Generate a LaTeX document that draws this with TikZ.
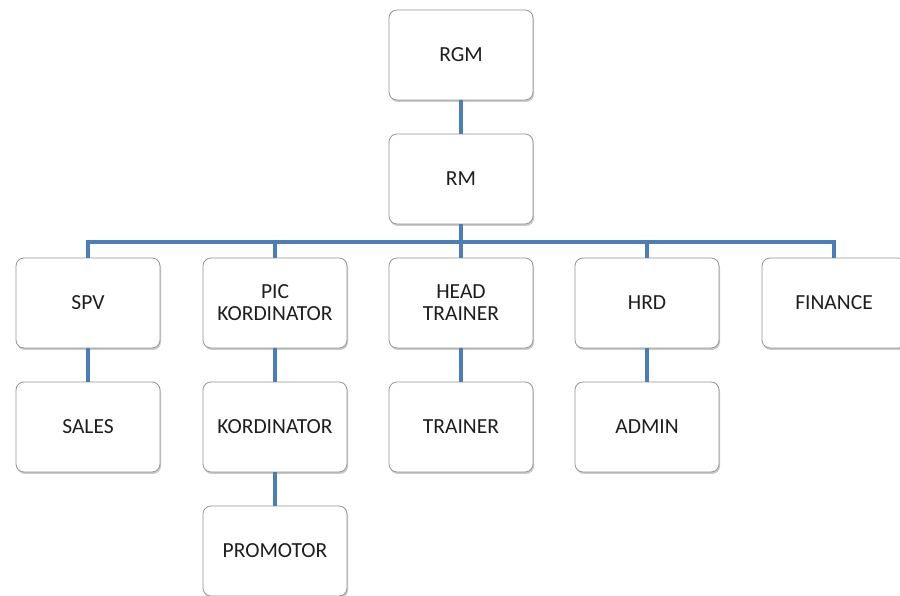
\documentclass[tikz,border=0pt]{standalone}
\usepackage{fontspec}
\setmainfont{Carlito}
\usetikzlibrary{shadows}
\definecolor{linkblue}{RGB}{74,126,187}
\definecolor{boxgray}{RGB}{150,150,150}
\definecolor{txt}{RGB}{30,30,30}
\tikzset{
  orgbox/.style={draw=boxgray, line width=0.8pt, fill=white, rounded corners=8pt,
    minimum width=144pt, minimum height=90pt, inner sep=0pt, align=center,
    font=\fontsize{21.5}{22}\selectfont, text=txt,
    drop shadow={opacity=0.35, shadow xshift=1pt, shadow yshift=-2pt, fill=black!60}},
  link/.style={draw=linkblue, line width=4.5pt, line join=miter}
}
\begin{document}
\begin{tikzpicture}[x=1pt,y=1pt]
\useasboundingbox (0,0) rectangle (900,596);
\clip (0,0) rectangle (900,596);
\fill[white] (0,0) rectangle (900,596);
% nodes
\node[orgbox] (rgm) at (461,541) {RGM};
\node[orgbox] (rm) at (461,417) {RM};
\node[orgbox] (spv) at (88,293) {SPV};
\node[orgbox] (pic) at (275,293) {PIC\\KORDINATOR};
\node[orgbox] (head) at (461,293) {HEAD\\TRAINER};
\node[orgbox] (hrd) at (647,293) {HRD};
\node[orgbox] (fin) at (834,293) {FINANCE};
\node[orgbox] (sales) at (88,169) {SALES};
\node[orgbox] (kord) at (275,169) {KORDINATOR};
\node[orgbox] (trainer) at (461,169) {TRAINER};
\node[orgbox] (admin) at (647,169) {ADMIN};
\node[orgbox] (promo) at (275,45) {PROMOTOR};
\coordinate (bus) at (461,354);
% connectors
\draw[link] (rgm.south) -- (rm.north);
\draw[link] (rm.south) -- (bus);
\draw[link] (spv.north) |- (bus) -| (fin.north);
\draw[link] (pic.north) -- (pic.north |- bus);
\draw[link] (head.north) -- (bus);
\draw[link] (hrd.north) -- (hrd.north |- bus);
\draw[link] (spv.south) -- (sales.north);
\draw[link] (pic.south) -- (kord.north);
\draw[link] (kord.south) -- (promo.north);
\draw[link] (head.south) -- (trainer.north);
\draw[link] (hrd.south) -- (admin.north);
\end{tikzpicture}
\end{document}
